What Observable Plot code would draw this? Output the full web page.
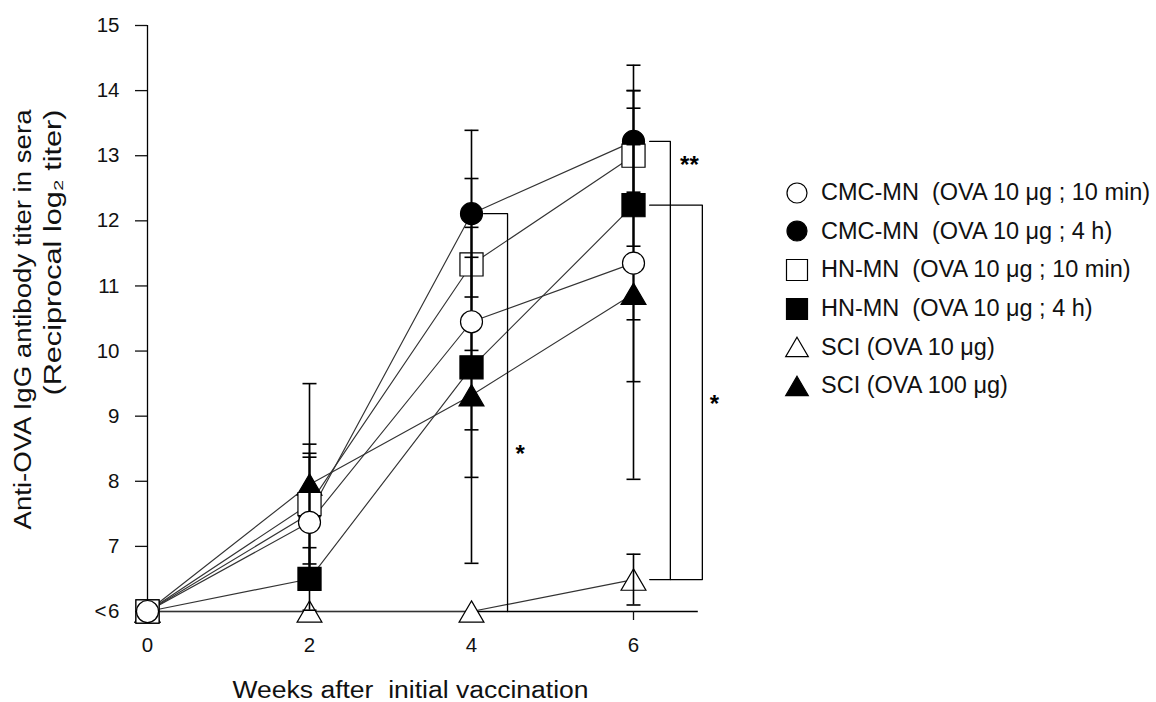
<!DOCTYPE html>
<html><head><meta charset="utf-8">
<script src="https://cdn.jsdelivr.net/npm/d3@7"></script>
<script src="https://cdn.jsdelivr.net/npm/@observablehq/plot@0.6"></script>
<style>
body{margin:0;background:#fff;font-family:"Liberation Sans",Arial,sans-serif;}
#wrap{position:relative;width:1156px;height:702px;}
#legend{position:absolute;left:784px;top:173.5px;}
.row{display:flex;align-items:center;height:38.6px;font-size:23.5px;color:#111;white-space:pre;}
.row svg{width:26px;height:26px;margin-right:11px;overflow:visible;flex:none;}
</style></head><body><div id="wrap"></div>
<script>
// ---- data ----
const weeks = [0, 2, 4, 6];
const seriesNames = [
  "CMC-MN  (OVA 10 μg ; 10 min)",
  "CMC-MN  (OVA 10 μg ; 4 h)",
  "HN-MN  (OVA 10 μg ; 10 min)",
  "HN-MN  (OVA 10 μg ; 4 h)",
  "SCI (OVA 10 μg)",
  "SCI (OVA 100 μg)"
];
const cmc10min = [6, 7.37, 10.45, 11.35];
const cmc10minSD = [0, 1.00, 1.66, 1.82];
const cmc4h = [6, 7.50, 12.11, 13.22];
const cmc4hSD = [0, 0.93, 1.28, 0.78];
const hn10min = [6, 7.65, 11.33, 13.00];
const hn10minSD = [0, 0.92, 1.32, 1.39];
const hn4h = [6, 6.50, 9.75, 12.24];
const hn4hSD = [0, 0.48, 1.69, 1.76];
const sci10 = [6, 6, 6, 6.49];
const sci10SD = [0, 0, 0, 0.39];
const sci100 = [6, 7.95, 9.32, 10.88];
const sci100SD = [0, 1.55, 2.58, 2.85];
const yTicks = [6, 7, 8, 9, 10, 11, 12, 13, 14, 15];
const xTicks = [0, 2, 4, 6];
const yTitle1 = "Anti-OVA IgG antibody titer in sera";
const yTitle2 = "(Reciprocal log₂ titer)";
const xTitle = "Weeks after  initial vaccination";

// ---- symbols ----
const sqSym = {draw(ctx, size){const s = Math.sqrt(size/Math.PI)*1.05; ctx.rect(-s, -s, 2*s, 2*s);}};
const triSym = {draw(ctx, size){const r = Math.sqrt(size/Math.PI); const w = r*1.13, h = r*0.97; ctx.moveTo(0,-h); ctx.lineTo(w,h); ctx.lineTo(-w,h); ctx.closePath();}};
const capSym = {draw(ctx){ctx.moveTo(-7,0); ctx.lineTo(7,0);}};

const groups = [
  {name: seriesNames[0], v: cmc10min, sd: cmc10minSD, sym: "circle", fill: "white"},
  {name: seriesNames[1], v: cmc4h, sd: cmc4hSD, sym: "circle", fill: "black"},
  {name: seriesNames[2], v: hn10min, sd: hn10minSD, sym: sqSym, fill: "white"},
  {name: seriesNames[3], v: hn4h, sd: hn4hSD, sym: sqSym, fill: "black"},
  {name: seriesNames[4], v: sci10, sd: sci10SD, sym: triSym, fill: "white"},
  {name: seriesNames[5], v: sci100, sd: sci100SD, sym: triSym, fill: "black"}
];
const rows = groups.flatMap((g, gi) => weeks.map((w, i) => ({
  series: g.name, gi, week: w, value: g.v[i], sd: g.sd[i], lo: g.v[i]-g.sd[i], hi: g.v[i]+g.sd[i], sym: g.sym, fill: g.fill
})));
const errRows = rows.filter(d => d.sd > 0);
const caps = errRows.flatMap(d => [{week: d.week, y: d.lo}, {week: d.week, y: d.hi}]);

// significance brackets (built from the data values)
const brackets = [
  {id: "a", x: 4.15, y: cmc4h[2]}, {id: "a", x: 4.445, y: cmc4h[2]}, {id: "a", x: 4.445, y: sci10[2]},
  {id: "b", x: 6.2, y: cmc4h[3]}, {id: "b", x: 6.455, y: cmc4h[3]}, {id: "b", x: 6.455, y: sci10[3]},
  {id: "c", x: 6.2, y: hn4h[3]}, {id: "c", x: 6.85, y: hn4h[3]}, {id: "c", x: 6.85, y: sci10[3]}, {id: "c", x: 6.2, y: sci10[3]}
];
const stars = [
  {x: 4.6, y: 8.5, t: "*"},
  {x: 6.69, y: 12.95, t: "**"},
  {x: 7.0, y: 9.27, t: "*"}
];

// draw order: filled markers, open triangles, open squares, error bars, open circles
const filled = rows.filter(d => d.fill === "black");
const openTri = rows.filter(d => d.gi === 4);
const openSq = rows.filter(d => d.gi === 2);
const openCirc = rows.filter(d => d.gi === 0);

const plot = Plot.plot({
  width: 1156, height: 702,
  marginLeft: 147, marginTop: 25, marginBottom: 91, marginRight: 458.2,
  style: {fontFamily: "'Liberation Sans', Arial, sans-serif", fontSize: "20px", color: "#111", background: "white"},
  x: {domain: [0, 6.8]},
  y: {domain: [6, 15]},
  marks: [
    Plot.ruleY([6], {x1: 0, x2: 6.8, stroke: "black", strokeWidth: 1.3}),
    Plot.ruleX([0], {y1: 6, y2: 15, stroke: "black", strokeWidth: 1.3}),
    Plot.axisY({ticks: yTicks, tickSize: 12, tickPadding: 16, tickFormat: d => d === 6 ? "<\u200a6" : String(d), fontSize: 20.5, label: null, strokeWidth: 1.3}),
    Plot.axisX({ticks: xTicks, tickSize: 9, tickPadding: 17, tickFormat: d3.format("d"), fontSize: 20.5, label: null, strokeWidth: 1.3}),
    Plot.line(rows, {x: "week", y: "value", z: "series", stroke: "#333", strokeWidth: 1.15}),
    Plot.line(brackets, {x: "x", y: "y", z: "id", stroke: "black", strokeWidth: 1.3}),
    Plot.dot(filled, {x: "week", y: "value", r: 11, symbol: d => d.sym, fill: "black", stroke: "black", strokeWidth: 1.2}),
    Plot.dot(openTri, {x: "week", y: "value", r: 11, symbol: triSym, fill: "white", stroke: "black", strokeWidth: 1.2}),
    Plot.dot(openSq, {x: "week", y: "value", r: 11, symbol: sqSym, fill: "white", stroke: "black", strokeWidth: 1.2}),
    Plot.ruleX(errRows, {x: "week", y1: "lo", y2: "hi", stroke: "black", strokeWidth: 1.6}),
    Plot.dot(caps, {x: "week", y: "y", r: 5, symbol: capSym, fill: "none", stroke: "black", strokeWidth: 1.6}),
    Plot.dot(openCirc, {x: "week", y: "value", r: 11, symbol: "circle", fill: "white", stroke: "black", strokeWidth: 1.2}),
    Plot.text(stars, {x: "x", y: "y", text: "t", fontSize: 24, fontWeight: "bold", dy: 6, fill: "black"}),
    Plot.text([yTitle1], {frameAnchor: "top-left", dx: -124, dy: 84, rotate: -90, textAnchor: "end", lineAnchor: "middle", fontSize: 23, fill: "#111", className: "ytitle1"}),
    Plot.text([yTitle2], {frameAnchor: "top-left", dx: -94, dy: 84, rotate: -90, textAnchor: "end", lineAnchor: "middle", fontSize: 23, fill: "#111", className: "ytitle2"}),
    Plot.text([xTitle], {frameAnchor: "bottom-left", dx: 263, dy: 79, textAnchor: "middle", lineAnchor: "middle", fontSize: 23, fill: "#111", className: "xtitle"})
  ]
});
plot.querySelectorAll("text").forEach(t => t.style.whiteSpace = "pre");
// stretch the titles to the lengths they have in the figure
const fit = (cls, len) => plot.querySelectorAll("." + cls + " text").forEach(t => {
  t.setAttribute("textLength", len); t.setAttribute("lengthAdjust", "spacingAndGlyphs");
});
fit("ytitle1", 420);
fit("ytitle2", 286);
fit("xtitle", 356);
const wrap = document.getElementById("wrap");
wrap.appendChild(plot);

// legend
const legend = document.createElement("div");
legend.id = "legend";
groups.forEach(g => {
  const row = document.createElement("div");
  row.className = "row";
  const svg = d3.create("svg").attr("viewBox", "-13 -13 26 26");
  const p = d3.path();
  (g.sym === "circle" ? {draw(ctx, s){ctx.arc(0, 0, Math.sqrt(s/Math.PI), 0, 2*Math.PI);}} : g.sym).draw(p, Math.PI*100);
  svg.append("path").attr("d", p.toString()).attr("fill", g.fill).attr("stroke", "black").attr("stroke-width", 1.2);
  row.appendChild(svg.node());
  const span = document.createElement("span");
  span.textContent = g.name;
  row.appendChild(span);
  legend.appendChild(row);
});
wrap.appendChild(legend);
</script>
</body></html>
